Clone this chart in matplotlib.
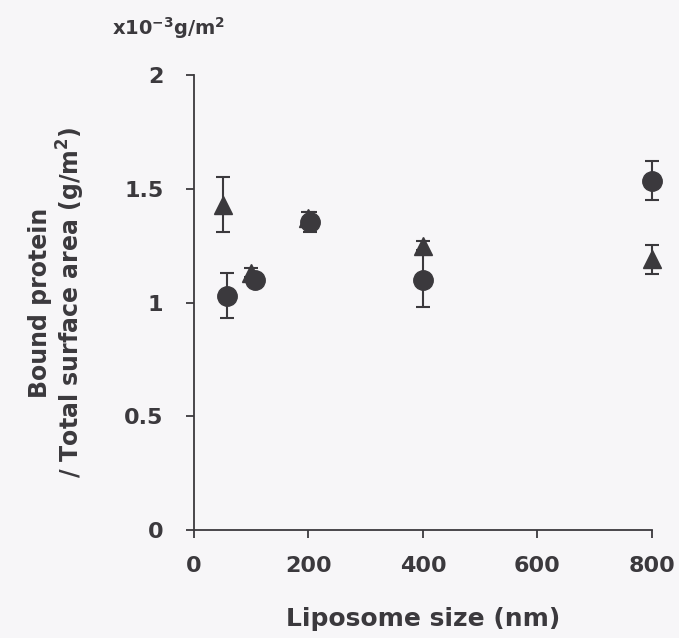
import matplotlib.pyplot as plt

plt.rcParams['font.family'] = ['DejaVu Sans']
plt.rcParams['mathtext.fontset'] = 'custom'
plt.rcParams['mathtext.rm'] = 'DejaVu Sans:bold'
plt.rcParams['mathtext.bf'] = 'DejaVu Sans:bold'
plt.rcParams['mathtext.default'] = 'bf'

# liposome size (nm) and bound protein per surface area (x10^-3 g/m2)
tri_x = [50, 100, 200, 400, 800]
tri_y = [1.43, 1.13, 1.37, 1.25, 1.19]
tri_err = [0.12, 0.02, 0.03, 0.02, 0.065]

circ_x = [57, 106, 202, 400, 800]
circ_y = [1.03, 1.10, 1.355, 1.10, 1.535]
circ_err = [0.10, 0.02, 0.045, 0.12, 0.085]

xticks = [0, 200, 400, 600, 800]
yticks = [0, 0.5, 1, 1.5, 2]
ytick_labels = ['0', '0.5', '1', '1.5', '2']

bg = '#f7f6f8'
ink = '#3b393d'

fig = plt.figure(figsize=(6.79, 6.38), dpi=100, facecolor=bg)
ax = fig.add_axes([0.2857, 0.1693, 0.6745, 0.7131], facecolor=bg)

ax.errorbar(tri_x, tri_y, yerr=tri_err, fmt='^', color=ink, ms=13,
            capsize=5, capthick=1.5, elinewidth=1.5, clip_on=False, zorder=3)
ax.errorbar(circ_x, circ_y, yerr=circ_err, fmt='o', color=ink, ms=14,
            capsize=5, capthick=1.5, elinewidth=1.5, clip_on=False, zorder=3)

ax.set_xlim(0, 800)
ax.set_ylim(0, 2)
ax.set_xticks(xticks)
ax.set_yticks(yticks)
ax.set_yticklabels(ytick_labels)
for s in ['top', 'right']:
    ax.spines[s].set_visible(False)
for s in ['left', 'bottom']:
    ax.spines[s].set_color(ink)
    ax.spines[s].set_linewidth(1.3)
ax.tick_params(direction='out', length=6, width=1.3, color=ink,
               labelsize=16, labelcolor=ink)
ax.tick_params(axis='y', pad=16)
ax.tick_params(axis='x', pad=13)
for lab in ax.get_xticklabels() + ax.get_yticklabels():
    lab.set_fontweight('bold')

ax.set_xlabel('Liposome size (nm)', fontsize=18, fontweight='bold',
              color=ink, labelpad=22)
ax.set_ylabel('Bound protein\n/ Total surface area (g/m$^2$)', fontsize=17,
              fontweight='bold', color=ink, labelpad=27, linespacing=1.1)

fig.text(0.165, 0.956, r'x10$^{-3}$g/m$^2$', fontsize=14, fontweight='bold',
         color=ink, va='center')

fig.savefig('out.png', dpi=100, facecolor=bg)
